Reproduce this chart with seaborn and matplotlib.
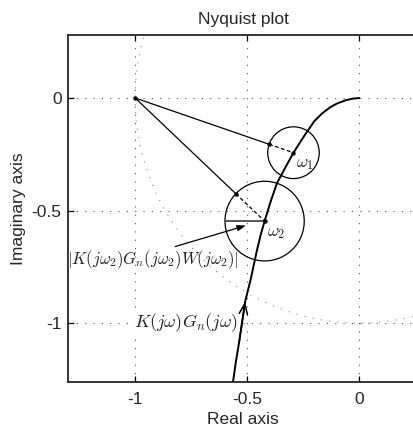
import matplotlib
matplotlib.use("Agg")
import matplotlib.pyplot as plt
from matplotlib.patches import Circle
import seaborn as sns
import numpy as np
import pandas as pd


# Nyquist curve K(jw)Gn(jw)
curve_re = [0.0, -0.03, -0.06, -0.10, -0.13, -0.165, -0.20, -0.245, -0.293,
            -0.33, -0.367, -0.395, -0.422, -0.44, -0.456, -0.47, -0.483,
            -0.509, -0.535, -0.55, -0.564]
curve_im = [0.0, -0.003, -0.010, -0.025, -0.042, -0.068, -0.103, -0.168,
            -0.243, -0.31, -0.379, -0.46, -0.547, -0.61, -0.676, -0.74,
            -0.801, -0.905, -1.08, -1.17, -1.268]

# the two frequency points and their uncertainty radii
omega_labels = [r"$\omega_1$", r"$\omega_2$"]
omega_re = [-0.293, -0.422]
omega_im = [-0.243, -0.547]
radius = [0.115, 0.177]

critical = (-1.0, 0.0)

xticks = [-1, -0.5, 0]
yticks = [-1, -0.5, 0]
tick_text = ["-1", "-0.5", "0"]


sns.set_style("ticks")
plt.rcParams["font.family"] = ["Liberation Sans", "DejaVu Sans"]
plt.rcParams["mathtext.fontset"] = "cm"

fig = plt.figure(figsize=(4.14, 4.26), dpi=100)
# right edge of the axes lies just outside the picture, as in the original
ax = fig.add_axes([68 / 414, 44 / 426, 350 / 414, 347 / 426])

# unit circle (dotted)
t = np.linspace(0, 2 * np.pi, 400)
ax.plot(np.cos(t), np.sin(t), color="#888888", linewidth=0.8,
        linestyle=(0, (1, 6.5)), zorder=1)

curve = pd.DataFrame({"re": curve_re, "im": curve_im})
sns.lineplot(data=curve, x="re", y="im", sort=False, estimator=None,
             color="black", linewidth=1.4, ax=ax, zorder=4)

# direction arrow on the curve
ax.annotate("", xy=(curve_re[17], curve_im[17]),
            xytext=(curve_re[18], curve_im[18]),
            arrowprops=dict(arrowstyle="->,head_length=0.75,head_width=0.3",
                            color="black", linewidth=1.1,
                            shrinkA=0, shrinkB=0), zorder=5)

points_x = [critical[0]]
points_y = [critical[1]]
for cx, cy, r, lab in zip(omega_re, omega_im, radius, omega_labels):
    ax.add_patch(Circle((cx, cy), r, fill=False, edgecolor="black",
                        linewidth=0.9, zorder=3))
    dx, dy = critical[0] - cx, critical[1] - cy
    d = np.hypot(dx, dy)
    px, py = cx + r * dx / d, cy + r * dy / d
    ax.plot([critical[0], px], [critical[1], py], color="black",
            linewidth=0.9, zorder=3)
    ax.plot([px, cx], [py, cy], color="black", linewidth=0.9,
            linestyle=(0, (3, 2)), zorder=3)
    points_x += [px, cx]
    points_y += [py, cy]
    ax.text(cx + 0.01, cy - 0.02, lab, fontsize=12.5, color="#222222",
            va="top", ha="left", zorder=6)

sns.scatterplot(x=points_x, y=points_y, color="black", s=10,
                edgecolor="black", linewidth=0, ax=ax, zorder=6)

# radius of the second circle
ax.plot([omega_re[1] - radius[1], omega_re[1]], [omega_im[1], omega_im[1]],
        color="#555555", linewidth=1.4, zorder=3)

ax.annotate("", xy=(-0.506, -0.567), xytext=(-0.821, -0.66),
            arrowprops=dict(arrowstyle="-|>,head_length=0.5,head_width=0.18",
                            color="black", linewidth=0.9,
                            shrinkA=0, shrinkB=0), zorder=5)

ax.text(-0.92, -0.72, r"$|K(j\omega_2)G_n(j\omega_2)W(j\omega_2)|$",
        fontsize=12, color="#222222", ha="center", va="center", zorder=6)
ax.text(-0.775, -1.0, r"$K(j\omega)G_n(j\omega)$", fontsize=13,
        color="#222222", ha="center", va="center", zorder=6,
        bbox=dict(facecolor="white", edgecolor="none", pad=0.5))

ax.set_xlim(-1.3, 0.263)
ax.set_ylim(-1.262, 0.28)

ax.set_xticks(xticks)
ax.set_xticklabels(tick_text)
ax.set_yticks(yticks)
ax.set_yticklabels(tick_text)
ax.tick_params(direction="in", length=4, width=0.9, labelsize=12.5,
               top=True, right=False, color="black")
ax.tick_params(axis="x", pad=7.5)
ax.tick_params(axis="y", pad=4.5)
ax.grid(True, color="#555555", linewidth=0.8, linestyle=(0, (1, 6.5)))
ax.set_axisbelow(True)
for sp in ax.spines.values():
    sp.set_linewidth(1.3)
ax.spines["right"].set_visible(False)

ax.set_title("Nyquist plot", fontsize=12.5, pad=8)
ax.set_xlabel("Real axis", fontsize=12.5, labelpad=3)
ax.set_ylabel("Imaginary axis", fontsize=12.5, labelpad=4)

plt.savefig("out.png", dpi=100)
